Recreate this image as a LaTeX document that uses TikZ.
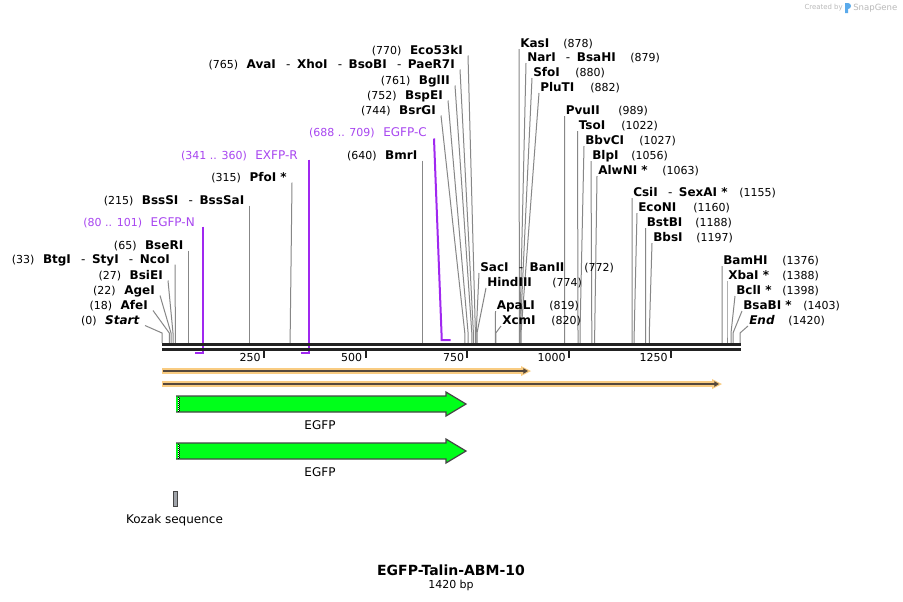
\documentclass[tikz,border=0pt]{standalone}
\usepackage{fontspec}
\setmainfont{DejaVu Sans}
\usetikzlibrary{calc,arrows.meta}
\definecolor{sitegray}{RGB}{135,135,135}
\definecolor{rulerc}{RGB}{34,34,34}
\definecolor{primerc}{RGB}{160,40,240}
\definecolor{primert}{RGB}{168,70,240}
\definecolor{orhalo}{RGB}{249,204,130}
\definecolor{orline}{RGB}{85,72,60}
\definecolor{egfpg}{RGB}{0,255,26}
\definecolor{edgeg}{RGB}{70,70,70}
\definecolor{kozakc}{RGB}{160,164,170}
\definecolor{sgray}{RGB}{185,185,185}
\definecolor{sblue}{RGB}{90,170,235}
\newcommand\dsh{\hspace{0.85em}{\mdseries -}\hspace{0.55em}}
\newcommand\lsite[6]{%
  \node[nm,anchor=base east] (#1) at (#2,#3+4.5) {#5};
  \node[num,anchor=base east] (#1n) at ($(#1.base west)+(-8,0)$) {#4};
  \coordinate (#1s) at (#6,343);
  \draw[site] ($(#1.base east)+(5,1)$) -- (#6,333) -- (#1s);}
\newcommand\rsite[7]{%
  \node[nm,anchor=base west] (#1) at (#2,#3+4.5) {#4};
  \node[num,anchor=base west] (#1n) at (#5,#3+4.5) {#6};
  \coordinate (#1s) at (#7,343);
  \draw[site] ($(#1.base west)+(-1,1.5)$) -- (#7,333) -- (#1s);}
\tikzset{
  nm/.style={font=\fontsize{9}{10}\selectfont\bfseries, inner sep=0pt},
  num/.style={font=\fontsize{8.25}{9}\selectfont, inner sep=0pt},
  pnm/.style={font=\fontsize{9}{10}\selectfont, text=primert, inner sep=0pt},
  pnum/.style={font=\fontsize{8.25}{9}\selectfont, text=primert, inner sep=0pt},
  site/.style={draw=sitegray, line width=0.75pt},
  primer/.style={draw=primerc, line width=1.5pt},
  rulerline/.style={draw=rulerc, line width=2.2pt},
  tickmark/.style={draw=rulerc, line width=1.5pt},
  ticklbl/.style={font=\fontsize{8.25}{9}\selectfont, inner sep=0pt, anchor=base east},
  featlbl/.style={font=\fontsize{9}{10}\selectfont, inner sep=0pt},
}
\begin{document}
\begin{tikzpicture}[x=0.75pt,y=-0.75pt]
\useasboundingbox (0,0) rectangle (903,601);
\fill[white] (0,0) rectangle (903,601);

% SnapGene mark
\node[font=\fontsize{5.2}{6}\selectfont, text=sgray, inner sep=0pt, anchor=east] (cby) at (843,8) {Created by};
\fill[sblue] (845,3) -- (848,3) arc[start angle=-90,end angle=90,radius=3] -- (848,13) -- (845,13) -- cycle;
\node[font=\fontsize{6.4}{7}\selectfont, text=sgray, inner sep=0pt, anchor=west] (sg) at (853,8) {SnapGene};

% left-side sites
\lsite{start}{140}{320}{(0)}{\textit{Start}}{162}
\lsite{afe}{148}{305}{(18)}{AfeI}{169.3}
\lsite{age}{155}{290}{(22)}{AgeI}{171}
\lsite{bsie}{163}{275}{(27)}{BsiEI}{173}
\lsite{btg}{170}{259}{(33)}{BtgI\dsh StyI\dsh NcoI}{175.4}
\lsite{bser}{183.5}{245}{(65)}{BseRI}{188.5}
\lsite{bsss}{244.5}{200}{(215)}{BssSI\dsh BssSaI}{249.5}
\lsite{pfo}{287}{177}{(315)}{PfoI *}{290.2}
\lsite{bmr}{417.5}{155}{(640)}{BmrI}{422.5}
\lsite{bsrg}{436}{110}{(744)}{BsrGI}{464.8}
\lsite{bspe}{443}{95}{(752)}{BspEI}{468.1}
\lsite{bgl}{450}{80}{(761)}{BglII}{471.8}
\lsite{ava}{455}{64}{(765)}{AvaI\dsh XhoI\dsh BsoBI\dsh PaeR7I}{473.4}
\lsite{eco}{463}{50}{(770)}{Eco53kI}{475.4}

% right-side sites
\rsite{kas}{520}{43}{KasI}{563}{(878)}{519.4}
\rsite{nar}{527}{57}{NarI\dsh BsaHI}{630}{(879)}{519.8}
\rsite{sfo}{533}{72}{SfoI}{575}{(880)}{520.2}
\rsite{plu}{540}{87}{PluTI}{590}{(882)}{521}
\rsite{pvu}{565.5}{110}{PvuII}{618}{(989)}{564.6}
\rsite{tso}{578.5}{125}{TsoI}{621}{(1022)}{578}
\rsite{bbvc}{585}{140}{BbvCI}{639}{(1027)}{580}
\rsite{blp}{592}{155}{BlpI}{631}{(1056)}{591.8}
\rsite{alwn}{598}{170}{AlwNI *}{662}{(1063)}{594.7}
\rsite{csi}{633}{192}{CsiI\dsh SexAI *}{739}{(1155)}{632.1}
\rsite{econ}{638}{207}{EcoNI}{693}{(1160)}{634.2}
\rsite{bstb}{646.5}{222}{BstBI}{695}{(1188)}{645.6}
\rsite{bbs}{653}{237}{BbsI}{696}{(1197)}{649.3}
\rsite{sac}{480}{267}{SacI\dsh BanII}{584}{(772)}{476.2}
\rsite{hind}{487}{282}{HindIII}{552}{(774)}{477}
\rsite{apal}{496.5}{305}{ApaLI}{549}{(819)}{495.4}
\rsite{xcm}{502}{320}{XcmI}{551}{(820)}{495.8}
\rsite{bamh}{723}{260}{BamHI}{782}{(1376)}{722.1}
\rsite{xba}{728}{275}{XbaI *}{782}{(1388)}{727}
\rsite{bcl}{736}{290}{BclI *}{782}{(1398)}{731}
\rsite{bsab}{743}{305}{BsaBI *}{803}{(1403)}{733}
\rsite{endl}{749}{320}{\textit{End}}{788}{(1420)}{740}

% primers
\node[pnm,anchor=base east] (egfpn) at (195,226.5) {EGFP-N};
\node[pnum,anchor=base east] (egfpnn) at ($(egfpn.base west)+(-8,0)$) {(80 .. 101)};
\coordinate (egfpnS) at (203.1,353);
\coordinate (egfpnE) at (194.6,353);
\draw[primer] (egfpn.base east -| egfpnS) -- (egfpnS) -- (egfpnE);

\node[pnm,anchor=base east] (exfpr) at (298,159.5) {EXFP-R};
\node[pnum,anchor=base east] (exfprn) at ($(exfpr.base west)+(-8,0)$) {(341 .. 360)};
\coordinate (exfprS) at (308.5,353);
\coordinate (exfprE) at (300.8,353);
\draw[primer] (exfpr.base east -| exfprS) -- (exfprS) -- (exfprE);

\node[pnm,anchor=base east] (egfpc) at (427,136.5) {EGFP-C};
\node[pnum,anchor=base east] (egfpcn) at ($(egfpc.base west)+(-8,0)$) {(688 .. 709)};
\coordinate (egfpcS) at (441.5,340);
\coordinate (egfpcE) at (450.6,340);
\draw[primer] ($(egfpc.base east)+(7,2)$) -- (441.5,333) -- (egfpcS) -- (egfpcE);

% ruler
\draw[rulerline] (162.3,344.8) -- (740.7,344.8);
\draw[rulerline] (162.3,349.7) -- (740.7,349.7);
\foreach \p/\t in {263.8/250,365.5/500,467.3/750,569/1000,670.8/1250}{
  \draw[tickmark] (\p,350.5) -- (\p,357.5);
  \node[ticklbl] at (\p-3,361) {\t};
}

% orange features
\draw[orhalo, line width=4.6pt] (162.3,371) -- (524,371);
\fill[orhalo] (521,366) -- (531,371) -- (521,376) -- cycle;
\draw[orline, line width=1.3pt, -{Triangle[length=3.5pt,width=4pt]}] (163,371) -- (528,371);
\draw[orhalo, line width=4.6pt] (162.3,384) -- (715,384);
\fill[orhalo] (712,379) -- (722,384) -- (712,389) -- cycle;
\draw[orline, line width=1.3pt, -{Triangle[length=3.5pt,width=4pt]}] (163,384) -- (719,384);

% EGFP arrows
\foreach \c/\n in {404/egfpA,451/egfpB}{
  \fill[egfpg] (176,\c-8) -- (446,\c-8) -- (446,\c-12) -- (466,\c) -- (446,\c+12) -- (446,\c+8) -- (176,\c+8) -- cycle;
  \draw[edgeg, line width=0.9pt, line join=miter] (176,\c-8) -- (446,\c-8) -- (446,\c-12) -- (466,\c) -- (446,\c+12) -- (446,\c+8) -- (176,\c+8);
  \draw[black, line width=0.6pt, dash pattern=on 0.75pt off 0.75pt] (178.2,\c-7.5) -- (178.2,\c+7.5);
  \draw[white, line width=0.6pt, dash pattern=on 0.75pt off 0.75pt, dash phase=0.75pt] (178.2,\c-7.5) -- (178.2,\c+7.5);
  \draw[black, line width=0.5pt, dash pattern=on 0.75pt off 0.75pt, dash phase=0.75pt] (179.4,\c-7.5) -- (179.4,\c+7.5);
  \node[featlbl] (\n) at (320,\c+21) {EGFP};
}

% Kozak
\draw[edgeg, fill=kozakc, line width=0.6pt] (173,491) rectangle (177.5,506);
\node[featlbl] (kozak) at (174.5,520) {Kozak sequence};

% title
\node[font=\fontsize{10.5}{12}\selectfont\bfseries, inner sep=0pt] (title) at (451,570) {EGFP-Talin-ABM-10};
\node[font=\fontsize{8.25}{9}\selectfont, inner sep=0pt] (bp) at (451,585) {1420 bp};
\end{tikzpicture}
\end{document}
